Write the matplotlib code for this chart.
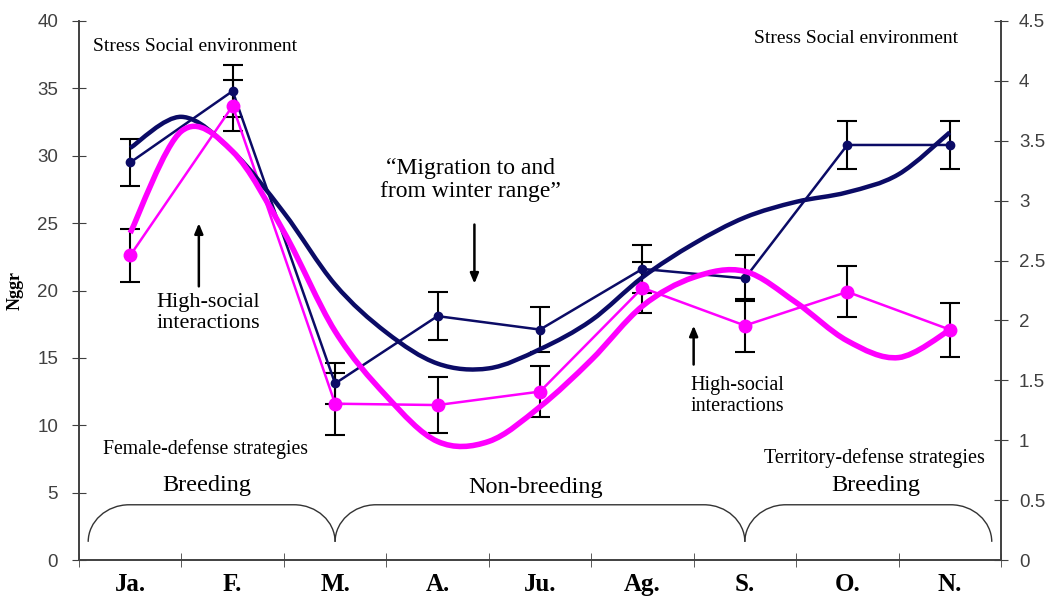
import numpy as np
import matplotlib
matplotlib.use("Agg")
import matplotlib.pyplot as plt
from matplotlib.path import Path
from matplotlib.patches import PathPatch

# categories (months)
months = ["Ja.", "F.", "M.", "A.", "Ju.", "Ag.", "S.", "O.", "N."]

# thin series with markers (left axis)
navy_vals = [29.5, 34.8, 13.1, 18.1, 17.1, 21.6, 20.9, 30.8, 30.8]
navy_err = [1.75, 1.9, 1.5, 1.8, 1.7, 1.8, 1.7, 1.8, 1.8]
pink_vals = [22.6, 33.7, 11.6, 11.5, 12.5, 20.2, 17.4, 19.9, 17.1]
pink_err = [2.0, 1.9, 2.3, 2.1, 1.9, 1.9, 2.0, 1.9, 2.0]

# thick smoothed series (right axis), read at every half month
half_pos = [i * 0.5 for i in range(17)]
navy_thick = [3.44, 3.70, 3.41, 2.90, 2.30, 1.90, 1.64, 1.60, 1.76,
              2.00, 2.36, 2.64, 2.86, 2.99, 3.07, 3.22, 3.57]
pink_thick = [2.73, 3.58, 3.41, 2.74, 1.91, 1.37, 0.99, 0.99, 1.28,
              1.67, 2.12, 2.36, 2.41, 2.15, 1.83, 1.69, 1.92]

NAVY = "#0b0b66"
PINK = "#ff00ff"
serif = "Liberation Serif"
sans = "Liberation Sans"


def smooth_path(xs, ys):
    # catmull-rom -> cubic bezier, like a spreadsheet "smoothed line"
    pts = list(zip(xs, ys))
    verts = [pts[0]]
    codes = [Path.MOVETO]
    for i in range(len(pts) - 1):
        p0 = pts[max(i - 1, 0)]
        p1 = pts[i]
        p2 = pts[i + 1]
        p3 = pts[min(i + 2, len(pts) - 1)]
        c1 = (p1[0] + (p2[0] - p0[0]) / 6, p1[1] + (p2[1] - p0[1]) / 6)
        c2 = (p2[0] - (p3[0] - p1[0]) / 6, p2[1] - (p3[1] - p1[1]) / 6)
        verts += [c1, c2, p2]
        codes += [Path.CURVE4] * 3
    return Path(verts, codes)


def brace(ax, xa, xb, y0=1.35, y1=4.1, r=0.4):
    k = 0.55
    verts = [(xa, y0), (xa, y0 + k * (y1 - y0)), (xa + r * (1 - k), y1), (xa + r, y1),
             (xb - r, y1),
             (xb - r * (1 - k), y1), (xb, y0 + k * (y1 - y0)), (xb, y0)]
    codes = [Path.MOVETO, Path.CURVE4, Path.CURVE4, Path.CURVE4,
             Path.LINETO, Path.CURVE4, Path.CURVE4, Path.CURVE4]
    ax.add_patch(PathPatch(Path(verts, codes), fill=False, lw=1.0, color="#333333"))


fig = plt.figure(figsize=(10.53, 5.98), dpi=100)
ax = fig.add_axes([0.075, 0.0635, 0.8756, 0.9014])
ax2 = ax.twinx()

x = np.arange(len(months))

# error bars
ax.errorbar(x, navy_vals, yerr=navy_err, fmt="none", ecolor="black", elinewidth=1.5,
            capsize=7, capthick=1.5, zorder=2)
ax.errorbar(x, pink_vals, yerr=pink_err, fmt="none", ecolor="black", elinewidth=1.5,
            capsize=7, capthick=1.5, zorder=2)

# thin lines
ax.plot(x, navy_vals, color=NAVY, lw=1.8, marker="o", ms=6, zorder=3)
ax.plot(x, pink_vals, color=PINK, lw=1.8, marker="o", ms=9, zorder=3)

# thick smoothed lines on right axis
ax2.add_patch(PathPatch(smooth_path(half_pos, navy_thick), fill=False, lw=3.2,
                        edgecolor=NAVY, zorder=4))
ax2.add_patch(PathPatch(smooth_path(half_pos, pink_thick), fill=False, lw=4,
                        edgecolor=PINK, zorder=4))

ax.set_xlim(-0.5, 8.5)
ax.set_ylim(0, 40)
ax2.set_ylim(0, 4.5)

ax.set_yticks(np.arange(0, 41, 5))
ax2.set_yticks(np.arange(0, 4.51, 0.5))
ax2.set_yticklabels(["0", "0.5", "1", "1.5", "2", "2.5", "3", "3.5", "4", "4.5"])

ax.set_xticks(x)
ax.set_xticklabels(months, fontfamily=serif, fontweight="bold", fontsize=18)
ax.set_xticks(np.arange(-0.5, 8.6, 1), minor=True)
ax.tick_params(axis="x", which="major", length=0, pad=9)
ax.tick_params(axis="x", which="minor", direction="inout", length=10, color="#404040")
ax.tick_params(axis="y", direction="inout", length=10, color="#404040",
               labelsize=13.5, labelcolor="#404040", pad=10)
ax2.tick_params(axis="y", direction="inout", length=10, color="#404040",
                labelsize=13.5, labelcolor="#404040", pad=8)
for lab in ax.get_yticklabels() + ax2.get_yticklabels():
    lab.set_fontfamily(sans)

for a in (ax, ax2):
    a.spines["top"].set_visible(False)
    for s in ("left", "right", "bottom"):
        a.spines[s].set_color("#404040")
        a.spines[s].set_linewidth(1.2)

ax.set_ylabel("Nggr", fontfamily=serif, fontsize=13, fontweight="bold", labelpad=10)

# annotations
ax.text(-0.36, 38.1, "Stress Social environment", fontfamily=serif, fontsize=14,
        ha="left", va="center")
ax.text(6.09, 38.7, "Stress Social environment", fontfamily=serif, fontsize=14,
        ha="left", va="center")
ax.text(3.32, 28.2, "\u201cMigration to and\nfrom winter range\u201d", fontfamily=serif,
        fontsize=17, ha="center", va="center", linespacing=1.1)
ax.annotate("", xy=(3.36, 20.3), xytext=(3.36, 25.1),
            arrowprops=dict(arrowstyle="-|>,head_width=0.25,head_length=0.6",
                            color="black", lw=1.8))
ax.text(0.26, 18.3, "High-social\ninteractions", fontfamily=serif, fontsize=16,
        ha="left", va="center", linespacing=1.15)
ax.annotate("", xy=(0.67, 25.2), xytext=(0.67, 20.1),
            arrowprops=dict(arrowstyle="-|>,head_width=0.25,head_length=0.6",
                            color="black", lw=1.8))
ax.text(5.47, 12.2, "High-social\ninteractions", fontfamily=serif, fontsize=14.5,
        ha="left", va="center", linespacing=1.15)
ax.annotate("", xy=(5.5, 17.6), xytext=(5.5, 14.3),
            arrowprops=dict(arrowstyle="-|>,head_width=0.25,head_length=0.6",
                            color="black", lw=1.8))
ax.text(-0.27, 8.2, "Female-defense strategies", fontfamily=serif, fontsize=14.2,
        ha="left", va="center")
ax.text(0.75, 5.5, "Breeding", fontfamily=serif, fontsize=17.5, ha="center", va="center")
ax.text(3.96, 5.35, "Non-breeding", fontfamily=serif, fontsize=17.5, ha="center", va="center")
ax.text(6.19, 7.6, "Territory-defense strategies", fontfamily=serif, fontsize=14.5,
        ha="left", va="center")
ax.text(7.28, 5.5, "Breeding", fontfamily=serif, fontsize=17.5, ha="center", va="center")

# season braces
brace(ax, -0.41, 2.0)
brace(ax, 2.0, 6.0)
brace(ax, 6.0, 8.41)

fig.savefig("out.png", dpi=100)
